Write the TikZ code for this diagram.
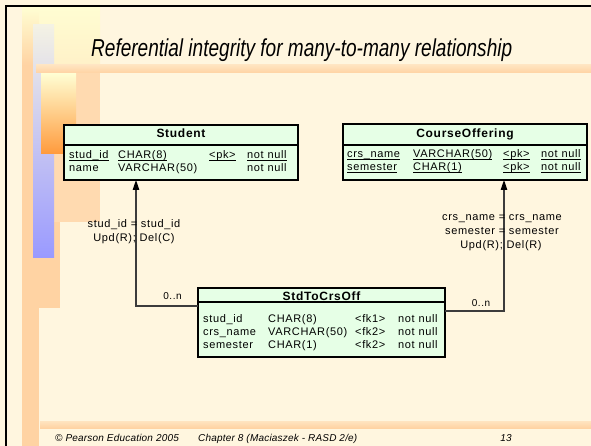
\documentclass[tikz,border=0pt]{standalone}
\usepackage{fontspec}
\usepackage{graphicx}
\setmainfont{Liberation Sans}
\newfontfamily\cellfam[LetterSpace=6]{Liberation Sans}
\newfontfamily\footfam[LetterSpace=2]{Liberation Sans}
\usetikzlibrary{arrows.meta}

\definecolor{paper}{HTML}{FFF6DF}
\definecolor{mint}{HTML}{E6FFE6}
\definecolor{peach}{HTML}{FFD3A3}
\definecolor{peachmid}{HTML}{FFDAB0}
\definecolor{peachlight}{HTML}{FFE4C0}
\definecolor{paleyellow}{HTML}{FFFDD2}
\definecolor{creamyellow}{HTML}{FFF1C8}
\definecolor{orangedeep}{HTML}{FF9A3C}
\definecolor{lilac}{HTML}{9A9AFF}
\definecolor{mist}{HTML}{F4F2E4}
\definecolor{linegray}{HTML}{3C3C3C}

\newcommand\cellfont{\cellfam\fontsize{11}{13}\selectfont}
\newcommand\hdrfont{\cellfam\bfseries\fontsize{12}{14}\selectfont}
\newcommand\ulx[1]{\underline{\smash{#1}}}

\tikzset{
  tbl/.style={draw=black, line width=1.7pt, fill=mint, inner sep=0pt, outer sep=0pt},
  sepline/.style={draw=black, line width=1.3pt},
  cell/.style={anchor=base west, inner sep=0pt, font=\cellfont},
  hdr/.style={anchor=base, inner sep=0pt, font=\hdrfont},
  lbl/.style={anchor=base, inner sep=0pt, font=\cellfont},
  card/.style={anchor=base, inner sep=0pt, font=\cellfam\fontsize{10}{12}\selectfont},
  foot/.style={anchor=base west, inner sep=0pt, font=\footfam\itshape\fontsize{10}{12}\selectfont},
  conn/.style={draw=linegray, line width=1.1pt},
  tip/.style={-{Triangle[length=10pt,width=6.5pt,color=black]}},
  bar/.style={top color=peachlight, bottom color=peach, draw=none},
}

\begin{document}
\begin{tikzpicture}[x=1pt,y=-1pt]
\useasboundingbox (0,0) rectangle (591,446);

% slide background
\fill[paper] (0,0) rectangle (591,446);

% decorative blocks along the left edge
\fill[top color=paleyellow, bottom color=creamyellow] (22,8) rectangle (100,65);
\fill[peachmid] (28,65) rectangle (100,222);
\fill[peach] (22,65) rectangle (39,446);
\fill[top color=paleyellow, bottom color=peach] (22,8) rectangle (39,65);
\fill[peach] (35,222) rectangle (60,308);
\fill[top color=mist, bottom color=lilac] (33,25) rectangle (54,257);
\fill[top color=paleyellow, bottom color=orangedeep] (41,74) rectangle (76,154);

% horizontal rules under the title and above the footer
\fill[bar] (36,65) rectangle (591,73);
\fill[bar] (40,421) rectangle (591,428);

% frame
\draw[line width=2pt] (6,446) -- (6,6) -- (591,6);

% title
\node[anchor=base west, inner sep=0pt] (title) at (91,57)
  {\resizebox{421pt}{\height}{\fontsize{24.5}{28}\selectfont\itshape Referential integrity for many-to-many relationship}};

% ---- table Student
\node[tbl, minimum width=234pt, minimum height=55pt] (student) at (181,152.5) {};
\draw[sepline] (student.north west) ++(0,20) -- ++(234,0);
\node[hdr] (studentH) at (181,138) {Student};
\node[cell] (s11) at (69,159)  {\ulx{stud\_id}};
\node[cell] (s12) at (118,159) {\ulx{CHAR(8)}};
\node[cell] (s13) at (209,159) {\ulx{<pk>}};
\node[cell] (s14) at (247,159) {\ulx{not null}};
\node[cell] (s21) at (69,172)  {name};
\node[cell] (s22) at (118,172) {VARCHAR(50)};
\node[cell] (s24) at (247,172) {not null};

% ---- table CourseOffering
\node[tbl, minimum width=244pt, minimum height=56pt] (course) at (465,152) {};
\draw[sepline] (course.north west) ++(0,21) -- ++(244,0);
\node[hdr] (courseH) at (465,138) {CourseOffering};
\node[cell] (c11) at (347,158) {\ulx{crs\_name}};
\node[cell] (c12) at (413,158) {\ulx{VARCHAR(50)}};
\node[cell] (c13) at (503,158) {\ulx{<pk>}};
\node[cell] (c14) at (541,158) {\ulx{not null}};
\node[cell] (c21) at (347,171) {\ulx{semester}};
\node[cell] (c22) at (413,171) {\ulx{CHAR(1)}};
\node[cell] (c23) at (503,171) {\ulx{<pk>}};
\node[cell] (c24) at (541,171) {\ulx{not null}};

% ---- table StdToCrsOff
\node[tbl, minimum width=247pt, minimum height=69pt] (link) at (321.5,322.5) {};
\draw[sepline] (link.north west) ++(0,14) -- ++(247,0);
\node[hdr] (linkH) at (321.5,300) {StdToCrsOff};
\node[cell] (l11) at (203,322) {stud\_id};
\node[cell] (l12) at (268,322) {CHAR(8)};
\node[cell] (l13) at (355,322) {<fk1>};
\node[cell] (l14) at (398,322) {not null};
\node[cell] (l21) at (203,335) {crs\_name};
\node[cell] (l22) at (268,335) {VARCHAR(50)};
\node[cell] (l23) at (355,335) {<fk2>};
\node[cell] (l24) at (398,335) {not null};
\node[cell] (l31) at (203,348) {semester};
\node[cell] (l32) at (268,348) {CHAR(1)};
\node[cell] (l33) at (355,348) {<fk2>};
\node[cell] (l34) at (398,348) {not null};

% ---- references
\coordinate (bendL) at (136,306);
\coordinate (bendR) at (504,311);
\draw[conn, tip] (link.west |- bendL) -- (bendL) -- (bendL |- student.south);
\draw[conn, tip] (link.east |- bendR) -- (bendR) -- (bendR |- course.south);

\node[lbl] (jL1) at (134,228) {stud\_id = stud\_id};
\node[lbl] (jL2) at (134,242) {Upd(R); Del(C)};
\node[lbl] (jR1) at (502,221) {crs\_name = crs\_name};
\node[lbl] (jR2) at (502,235) {semester = semester};
\node[lbl] (jR3) at (501,248) {Upd(R); Del(R)};

\node[card] (mL) at (172.5,299.5) {0..n};
\node[card] (mR) at (481,306) {0..n};

% footer
\node[foot] (copy) at (55,441) {© Pearson Education 2005};
\node[foot] (chap) at (198,441) {Chapter 8 (Maciaszek - RASD 2/e)};
\node[foot, anchor=base east] (page) at (512,441) {13};
\end{tikzpicture}
\end{document}
